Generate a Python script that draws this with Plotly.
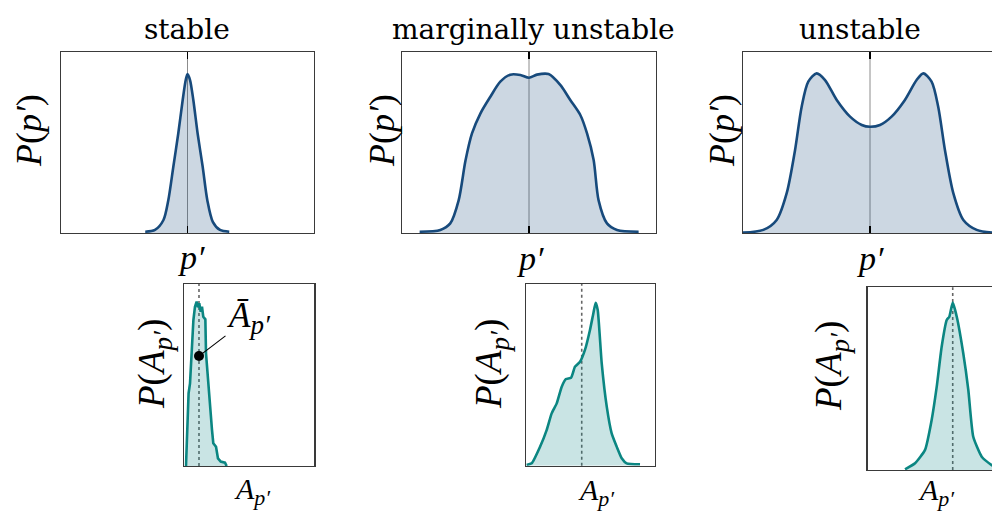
import plotly.graph_objects as go

W, H = 992, 513

# ---------------- data ----------------
titles = ["stable", "marginally unstable", "unstable"]

# top row: P(p') curves, x in [-1, 1] across the panel, y normalised to panel height
p_stable_x = [-0.334, -0.257, -0.19, -0.152, -0.112, -0.073, -0.038, -0.014, 0.0, 0.02, 0.046,
              0.08, 0.12, 0.157, 0.2, 0.257, 0.33]
p_stable_y = [0.007, 0.017, 0.072, 0.18, 0.366, 0.55, 0.735, 0.845, 0.878, 0.845, 0.735,
              0.55, 0.366, 0.18, 0.062, 0.017, 0.007]

p_marg_x = [-0.861, -0.698, -0.62, -0.554, -0.50, -0.449, -0.383, -0.304, -0.226, -0.147, -0.068,
            0.0, 0.063, 0.154, 0.246, 0.325, 0.404, 0.457, 0.509, 0.548, 0.614, 0.693, 0.863]
p_marg_y = [0.007, 0.017, 0.053, 0.18, 0.40, 0.55, 0.66, 0.753, 0.836, 0.875, 0.873,
            0.858, 0.875, 0.878, 0.818, 0.735, 0.652, 0.55, 0.403, 0.18, 0.053, 0.017, 0.007]

p_unst_x = [-1.0, -0.84, -0.735, -0.656, -0.59, -0.538, -0.486, -0.42, -0.354, -0.262, -0.157,
            -0.065, 0.0, 0.079, 0.17, 0.275, 0.367, 0.42, 0.485, 0.537, 0.59, 0.656, 0.735,
            0.84, 0.958, 1.0]
p_unst_y = [0.002, 0.017, 0.072, 0.22, 0.459, 0.698, 0.836, 0.882, 0.845, 0.735, 0.643,
            0.597, 0.587, 0.597, 0.643, 0.735, 0.845, 0.882, 0.836, 0.698, 0.459, 0.22, 0.072,
            0.017, 0.002, 0.002]

# bottom row: P(A_p') curves, x in [0, 1] across the panel
a_stable_x = [0.013, 0.023, 0.033, 0.044, 0.057, 0.07, 0.082, 0.095, 0.105, 0.115, 0.126, 0.136,
              0.146, 0.162, 0.167, 0.182, 0.198, 0.213, 0.223, 0.244, 0.259, 0.28, 0.313, 0.326]
a_stable_y = [0.0, 0.253, 0.40, 0.454, 0.619, 0.802, 0.875, 0.903, 0.872, 0.894, 0.848, 0.875,
              0.82, 0.806, 0.619, 0.473, 0.308, 0.198, 0.125, 0.106, 0.042, 0.024, 0.018, 0.0]

a_marg_x = [0.005, 0.044, 0.109, 0.16, 0.199, 0.238, 0.277, 0.31, 0.349, 0.38, 0.419, 0.457,
            0.496, 0.522, 0.54, 0.556, 0.587, 0.626, 0.664, 0.703, 0.742, 0.78, 0.884]
a_marg_y = [0.004, 0.013, 0.104, 0.196, 0.288, 0.343, 0.435, 0.477, 0.484, 0.545, 0.572, 0.637,
            0.747, 0.838, 0.897, 0.857, 0.563, 0.325, 0.178, 0.105, 0.041, 0.013, 0.008]

a_unst_x = [0.287, 0.364, 0.441, 0.492, 0.531, 0.569, 0.608, 0.628, 0.654, 0.685, 0.735, 0.774,
            0.812, 0.877, 0.954, 1.0]
a_unst_y = [0.004, 0.037, 0.11, 0.274, 0.456, 0.675, 0.821, 0.839, 0.916, 0.839, 0.639, 0.438,
            0.182, 0.073, 0.027, 0.01]

a_mean = [0.113, 0.432, 0.654]      # dotted mean lines
a_mean_marker_y = 0.604             # marked point on the stable mean line

# ---------------- style / layout ----------------
BLUE = "#174a7c"
BLUE_FILL = "rgba(23,74,124,0.22)"
TEAL = "#0b8682"
TEAL_FILL = "rgba(11,134,130,0.22)"
FRAME = "#3a3a3a"
TITLE_FONT = "DejaVu Serif"
LABEL_FONT = "Liberation Serif"

# panel boxes in pixels: (left, top, right, bottom)
top_boxes = [(61, 52, 314, 233), (402, 52, 656, 233), (743, 52, 997, 233)]
bot_boxes = [(184.3, 284, 314.3, 466), (526, 284, 655, 465.7), (867.7, 287.3, 997.7, 470)]

fig = go.Figure()
layout = dict(width=W, height=H, margin=dict(l=0, r=0, t=0, b=0),
              paper_bgcolor="white", plot_bgcolor="white", showlegend=False)

top_data = [(p_stable_x, p_stable_y), (p_marg_x, p_marg_y), (p_unst_x, p_unst_y)]
bot_data = [(a_stable_x, a_stable_y), (a_marg_x, a_marg_y), (a_unst_x, a_unst_y)]
shapes = []
annotations = []


def add_axes(idx, box, xr0, xr1, center_ticks):
    l, t, r, b = box
    clipped = r > W
    rr = min(r, W)
    xr_end = xr0 + (xr1 - xr0) * (rr - l) / (r - l)
    sfx = "" if idx == 1 else str(idx)
    xa = dict(domain=[l / W, rr / W], range=[xr0, xr_end], showgrid=False, zeroline=False,
              showline=True, linecolor=FRAME, linewidth=1.3, mirror="ticks" if center_ticks else True,
              showticklabels=False, fixedrange=True, anchor="y" + sfx)
    if center_ticks:
        xa.update(ticks="inside", tickvals=[0], ticklen=7, tickwidth=1.5, tickcolor="black")
    else:
        xa.update(ticks="")
    ya = dict(domain=[1 - b / H, 1 - t / H], range=[0, 1], showgrid=False, zeroline=False,
              showline=True, linecolor=FRAME, linewidth=1.3, mirror=(not clipped),
              showticklabels=False, ticks="", fixedrange=True, anchor="x" + sfx)
    layout["xaxis" + sfx] = xa
    layout["yaxis" + sfx] = ya
    return "x" + sfx, "y" + sfx


def txt(px, py, text, size, angle=0, family=LABEL_FONT):
    annotations.append(dict(x=px / W, y=1 - py / H, xref="paper", yref="paper", text=text,
                            showarrow=False, textangle=angle, xanchor="center", yanchor="middle",
                            font=dict(family=family, size=size, color="black")))


def sub(s, size):
    return f"<sub><span style='font-size:{size}px'><i>{s}</i></span></sub>"


# top row
title_pos = [(187, 29), (533, 29), (860, 29)]
ylab_top = [(29, 131), (382, 131), (722, 131)]
xlab_top = [(191, 257), (530, 258), (870, 258)]
for i, (box, (xs, ys)) in enumerate(zip(top_boxes, top_data)):
    xr, yr = add_axes(i + 1, box, -1, 1, True)
    shapes.append(dict(type="line", xref=xr, yref=yr + " domain", x0=0, x1=0, y0=0, y1=1,
                       line=dict(color="#8c8c8c", width=1), layer="below"))
    fig.add_trace(go.Scatter(x=xs, y=ys, xaxis=xr, yaxis=yr, mode="lines", fill="tozeroy",
                             fillcolor=BLUE_FILL,
                             line=dict(color=BLUE, width=2.6, shape="spline", smoothing=0.8),
                             hoverinfo="skip"))
    txt(*title_pos[i], titles[i], 28, family=TITLE_FONT)
    txt(*ylab_top[i], "<i>P</i>(<i>p′</i>)", 36, -90)
    txt(*xlab_top[i], "<i>p′</i>", 34)

# bottom row
ylab_bot = [(154, 364), (491, 364), (831, 366)]
xlab_bot = [(252, 491), (596, 492), (936, 492)]
for i, (box, (xs, ys)) in enumerate(zip(bot_boxes, bot_data)):
    xr, yr = add_axes(i + 4, box, 0, 1, False)
    shapes.append(dict(type="line", xref=xr, yref=yr + " domain", x0=a_mean[i], x1=a_mean[i],
                       y0=0, y1=1, line=dict(color="#666666", width=1.6, dash="dot"),
                       layer="below"))
    fig.add_trace(go.Scatter(x=xs, y=ys, xaxis=xr, yaxis=yr, mode="lines", fill="tozeroy",
                             fillcolor=TEAL_FILL,
                             line=dict(color=TEAL, width=2.6,
                                       shape="linear" if i == 0 else "spline", smoothing=0.5),
                             hoverinfo="skip"))
    txt(*ylab_bot[i], "<i>P</i>(<i>A</i>" + sub("p′", 27) + ")", 37, -90)
    txt(*xlab_bot[i], "<i>A</i>" + sub("p′", 22), 30)

# marked mean point + label in the stable panel
fig.add_trace(go.Scatter(x=[a_mean[0]], y=[a_mean_marker_y], xaxis="x4", yaxis="y4", mode="markers",
                         marker=dict(color="black", size=10), hoverinfo="skip", cliponaxis=False))
annotations.append(dict(x=a_mean[0], y=a_mean_marker_y, xref="x4", yref="y4",
                        text="<i>Ā</i>" + sub("p′", 27), showarrow=True, arrowhead=0,
                        arrowwidth=1.1, arrowcolor="black", ax=50, ay=-38, standoff=2,
                        font=dict(family=LABEL_FONT, size=35, color="black")))

layout["shapes"] = shapes
layout["annotations"] = annotations
fig.update_layout(**layout)
fig.write_html("out.html", config={"displayModeBar": False, "staticPlot": True})
